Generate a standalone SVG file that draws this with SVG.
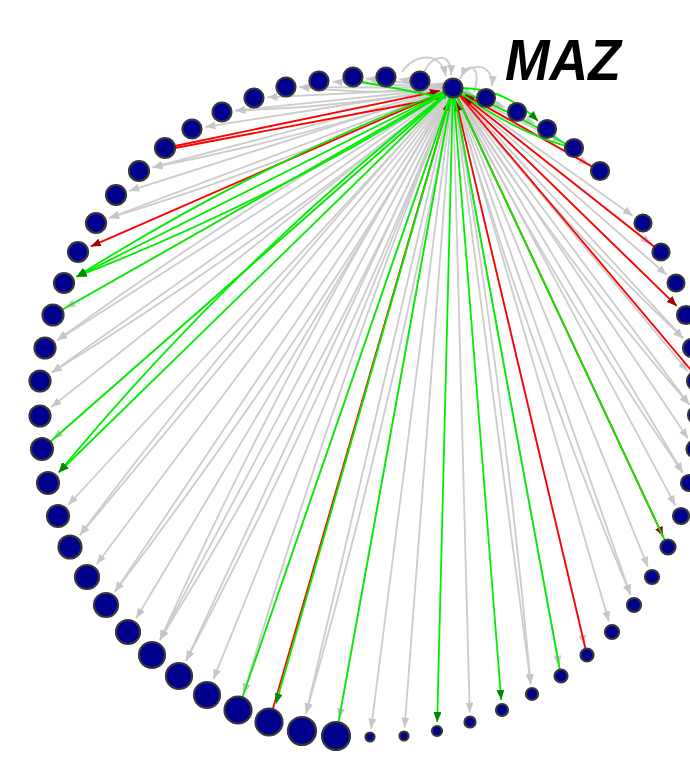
<svg xmlns="http://www.w3.org/2000/svg" width="690" height="763" viewBox="0 0 690 763">
<defs>
<style>
.g{fill:none;stroke:#cccccc;stroke-width:1.8;marker-end:url(#ag)}
.gn{fill:none;stroke:#cccccc;stroke-width:1.8}
.r{fill:none;stroke:#ff0000;stroke-width:1.8;marker-end:url(#ar)}
.rn{fill:none;stroke:#ff0000;stroke-width:1.8}
.v{fill:none;stroke:#00ee00;stroke-width:1.8;marker-end:url(#av)}
.vn{fill:none;stroke:#00ee00;stroke-width:1.8}
.nd{fill:#00008e;stroke:#383838;stroke-width:2.2}
.lbl{font-family:"Liberation Sans",Arial,sans-serif;font-weight:bold;font-style:italic;font-size:57px;fill:#000}
</style>
<marker id="ag" markerUnits="userSpaceOnUse" viewBox="0 0 10 8" refX="10" refY="4" markerWidth="10" markerHeight="8" orient="auto"><path d="M0,0L10,4L0,8z" fill="#c6c6c6"/></marker>
<marker id="ar" markerUnits="userSpaceOnUse" viewBox="0 0 10 8" refX="10" refY="4" markerWidth="10" markerHeight="8" orient="auto"><path d="M0,0L10,4L0,8z" fill="#a00000"/></marker>
<marker id="av" markerUnits="userSpaceOnUse" viewBox="0 0 10 8" refX="10" refY="4" markerWidth="10" markerHeight="8" orient="auto"><path d="M0,0L10,4L0,8z" fill="#008a00"/></marker>
</defs>
<rect width="690" height="763" fill="#fff"/>
<g id="edges">
<g id="gray">
<path class="g" d="M453,88L473.6,94.2"/>
<path class="g" d="M453,88L504.8,107.4"/>
<path class="g" d="M453,88L535.1,123.8"/>
<path class="g" d="M453,88L562.4,142.2"/>
<path class="g" d="M453,88L588.7,164.6"/>
<path class="g" d="M453,88L632.8,215.8"/>
<path class="g" d="M453,88L651.2,244.3"/>
<path class="g" d="M453,88L666.6,274.8"/>
<path class="g" d="M453,88L676.7,305.9"/>
<path class="g" d="M453,88L683.2,338.4"/>
<path class="g" d="M453,88Q559.3,221.3 683.2,338.4"/>
<path class="g" d="M453,88L687.7,371"/>
<path class="g" d="M453,88L689.2,404.6"/>
<path class="g" d="M453,88Q559.1,255.3 689.2,404.6"/>
<path class="g" d="M453,88L688,438.6"/>
<path class="g" d="M453,88L682.8,472.7"/>
<path class="g" d="M453,88Q555,288 682.8,472.7"/>
<path class="g" d="M453,88L675.4,505.4"/>
<path class="g" d="M453,88L647.9,566.8"/>
<path class="g" d="M453,88L630.4,594.6"/>
<path class="g" d="M453,88Q527.5,346.3 630.4,594.6"/>
<path class="g" d="M453,88L608.9,621.4"/>
<path class="g" d="M453,88L584.6,644.8"/>
<path class="g" d="M453,88L559.1,665.7"/>
<path class="g" d="M453,88L530.7,684.1"/>
<path class="g" d="M453,88Q503.8,384.5 530.7,684.1"/>
<path class="g" d="M453,88L469.7,712.5"/>
<path class="g" d="M453,88L404.6,727.5"/>
<path class="g" d="M453,88L371.1,728.6"/>
<path class="g" d="M453,88L339.2,718.3"/>
<path class="g" d="M453,88L306.1,713.5"/>
<path class="g" d="M453,88Q394.2,404.2 306.1,713.5"/>
<path class="g" d="M453,88L243.7,693.5"/>
<path class="g" d="M453,88Q334.2,385.9 243.7,693.5"/>
<path class="g" d="M453,88L213.4,679.2"/>
<path class="g" d="M453,88L186.2,660.6"/>
<path class="g" d="M453,88Q333.2,380.6 186.2,660.6"/>
<path class="g" d="M453,88L160,640"/>
<path class="g" d="M453,88Q324.2,373.4 160,640"/>
<path class="g" d="M453,88Q288.8,354.6 160,640"/>
<path class="g" d="M453,88L136.2,618.3"/>
<path class="g" d="M453,88L114.9,591.7"/>
<path class="g" d="M453,88Q298.9,349.9 114.9,591.7"/>
<path class="g" d="M453,88L96.6,564.2"/>
<path class="g" d="M453,88L79.9,535.1"/>
<path class="g" d="M453,88Q255,302 79.9,535.1"/>
<path class="g" d="M453,88L68.2,505"/>
<path class="g" d="M453,88L53.3,439.1"/>
<path class="g" d="M453,88L51.4,407"/>
<path class="g" d="M453,88L51.8,372.6"/>
<path class="g" d="M453,88Q261.1,242.5 51.8,372.6"/>
<path class="g" d="M453,88L57.2,340.2"/>
<path class="g" d="M453,88Q247,201.5 57.2,340.2"/>
<path class="g" d="M453,88L65.6,307.8"/>
<path class="g" d="M453,88L109.1,218"/>
<path class="g" d="M453,88Q285.2,164.2 109.1,218"/>
<path class="g" d="M453,88L129.3,190.8"/>
<path class="g" d="M453,88L152.5,167.4"/>
<path class="g" d="M453,88Q305.4,137.4 152.5,167.4"/>
<path class="g" d="M453,88L205.3,126.9"/>
<path class="g" d="M453,88L235.4,110.6"/>
<path class="g" d="M453,88Q345,107.3 235.4,110.6"/>
<path class="g" d="M453,88L267.5,97.3"/>
<path class="g" d="M453,88L299.5,87.1"/>
<path class="g" d="M453,88Q376.2,95.6 299.5,87.1"/>
<path class="g" d="M453,88L332.5,81.7"/>
<path class="g" d="M453,88L366.4,78.5"/>
<path class="g" d="M453,88L399.3,79.2"/>
<path class="g" d="M453,88L433.2,83.8"/>
<path class="g" d="M424,73C430,55 452,50 451,75"/>
<path class="g" d="M402,72C414,54 440,50 446,76"/>
<path class="g" d="M474,92C482,70 470,58 461,77"/>
<path class="g" d="M460,79C470,60 494,64 492,86"/>
</g>
<g id="red">
<path class="r" d="M175,146L439.8,90.8"/>
<path class="rn" d="M175,148L446,97"/>
<path class="r" d="M453,88L90.8,246.4"/>
<path class="r" d="M272.8,709L449.2,101"/>
<path class="r" d="M585.5,648.7L456.1,101.1"/>
<path class="r" d="M453,88L663.1,536.6"/>
<path class="r" d="M453,88L676.7,305.9"/>
<path class="r" d="M654.3,246.7L463.6,96.4"/>
<path class="r" d="M592.2,166.6L464.8,94.6"/>
<path class="rn" d="M453,88L702,383"/>
</g>
<g id="green">
<path class="v" d="M453,88L76.5,276.7"/>
<path class="v" d="M453,88Q256,164 76.5,276.7"/>
<path class="v" d="M453,88Q274,200 76.5,276.7"/>
<path class="vn" d="M62.1,309.8L453,88"/>
<path class="v" d="M453,88L58.7,472.5"/>
<path class="v" d="M453,88Q233,262 58.7,472.5"/>
<path class="vn" d="M50.3,441.7L453,88"/>
<path class="v" d="M453,88L276,703.5"/>
<path class="vn" d="M242.4,697.2L453,88"/>
<path class="vn" d="M338.5,722.2L453,88"/>
<path class="v" d="M453,88L437.2,722"/>
<path class="v" d="M453,88L501.2,700"/>
<path class="vn" d="M559.8,669.6L453,88"/>
<path class="vn" d="M664.8,540.2L453,88"/>
<path class="v" d="M460,88Q505,88 538,121"/>
<path class="vn" d="M566,144Q510,110 453,88"/>
<path class="vn" d="M566,146Q515,132 453,88"/>
<path class="vn" d="M362,82L446,98"/>
</g>
</g>
<g id="nodes">
<g id="n1"><circle class="nd" cx="486" cy="98" r="9"/></g>
<g id="n2"><circle class="nd" cx="517" cy="112" r="9"/></g>
<g id="n3"><circle class="nd" cx="547" cy="129" r="9"/></g>
<g id="n4"><circle class="nd" cx="574" cy="148" r="9"/></g>
<g id="n5"><circle class="nd" cx="600" cy="171" r="9"/></g>
<g id="n6"><circle class="nd" cx="643" cy="223" r="8.5"/></g>
<g id="n7"><circle class="nd" cx="661" cy="252" r="8.5"/></g>
<g id="n8"><circle class="nd" cx="676" cy="283" r="8.5"/></g>
<g id="n9"><circle class="nd" cx="686" cy="315" r="9"/></g>
<g id="n10"><circle class="nd" cx="692" cy="348" r="9"/></g>
<g id="n11"><circle class="nd" cx="696" cy="381" r="9"/></g>
<g id="n12"><circle class="nd" cx="697" cy="415" r="9"/></g>
<g id="n13"><circle class="nd" cx="695" cy="449" r="8.5"/></g>
<g id="n14"><circle class="nd" cx="689" cy="483" r="8"/></g>
<g id="n15"><circle class="nd" cx="681" cy="516" r="8"/></g>
<g id="n16"><circle class="nd" cx="668" cy="547" r="7.5"/></g>
<g id="n17"><circle class="nd" cx="652" cy="577" r="7"/></g>
<g id="n18"><circle class="nd" cx="634" cy="605" r="7"/></g>
<g id="n19"><circle class="nd" cx="612" cy="632" r="7"/></g>
<g id="n20"><circle class="nd" cx="587" cy="655" r="6.5"/></g>
<g id="n21"><circle class="nd" cx="561" cy="676" r="6.5"/></g>
<g id="n22"><circle class="nd" cx="532" cy="694" r="6"/></g>
<g id="n23"><circle class="nd" cx="502" cy="710" r="6"/></g>
<g id="n24"><circle class="nd" cx="470" cy="722" r="5.5"/></g>
<g id="n25"><circle class="nd" cx="437" cy="731" r="5"/></g>
<g id="n26"><circle class="nd" cx="404" cy="736" r="4.5"/></g>
<g id="n27"><circle class="nd" cx="370" cy="737" r="4.5"/></g>
<g id="n28"><circle class="nd" cx="336" cy="736" r="14"/></g>
<g id="n29"><circle class="nd" cx="302" cy="731" r="14"/></g>
<g id="n30"><circle class="nd" cx="269" cy="722" r="13.5"/></g>
<g id="n31"><circle class="nd" cx="238" cy="710" r="13.5"/></g>
<g id="n32"><circle class="nd" cx="207" cy="695" r="13"/></g>
<g id="n33"><circle class="nd" cx="179" cy="676" r="13"/></g>
<g id="n34"><circle class="nd" cx="152" cy="655" r="13"/></g>
<g id="n35"><circle class="nd" cx="128" cy="632" r="12"/></g>
<g id="n36"><circle class="nd" cx="106" cy="605" r="12"/></g>
<g id="n37"><circle class="nd" cx="87" cy="577" r="12"/></g>
<g id="n38"><circle class="nd" cx="70" cy="547" r="11.5"/></g>
<g id="n39"><circle class="nd" cx="58" cy="516" r="11"/></g>
<g id="n40"><circle class="nd" cx="48" cy="483" r="11"/></g>
<g id="n41"><circle class="nd" cx="42" cy="449" r="11"/></g>
<g id="n42"><circle class="nd" cx="40" cy="416" r="10.5"/></g>
<g id="n43"><circle class="nd" cx="40" cy="381" r="10.5"/></g>
<g id="n44"><circle class="nd" cx="45" cy="348" r="10.5"/></g>
<g id="n45"><circle class="nd" cx="53" cy="315" r="10.5"/></g>
<g id="n46"><circle class="nd" cx="64" cy="283" r="10"/></g>
<g id="n47"><circle class="nd" cx="78" cy="252" r="10"/></g>
<g id="n48"><circle class="nd" cx="96" cy="223" r="10"/></g>
<g id="n49"><circle class="nd" cx="116" cy="195" r="10"/></g>
<g id="n50"><circle class="nd" cx="139" cy="171" r="10"/></g>
<g id="n51"><circle class="nd" cx="165" cy="148" r="10"/></g>
<g id="n52"><circle class="nd" cx="192" cy="129" r="9.5"/></g>
<g id="n53"><circle class="nd" cx="222" cy="112" r="9.5"/></g>
<g id="n54"><circle class="nd" cx="254" cy="98" r="9.5"/></g>
<g id="n55"><circle class="nd" cx="286" cy="87" r="9.5"/></g>
<g id="n56"><circle class="nd" cx="319" cy="81" r="9.5"/></g>
<g id="n57"><circle class="nd" cx="353" cy="77" r="9.5"/></g>
<g id="n58"><circle class="nd" cx="386" cy="77" r="9.5"/></g>
<g id="n59"><circle class="nd" cx="420" cy="81" r="9.5"/></g>
<g id="maz"><circle class="nd" cx="453" cy="88" r="9.5"/></g>
</g>
<text class="lbl" x="505" y="80" textLength="116" lengthAdjust="spacingAndGlyphs">MAZ</text>
</svg>
